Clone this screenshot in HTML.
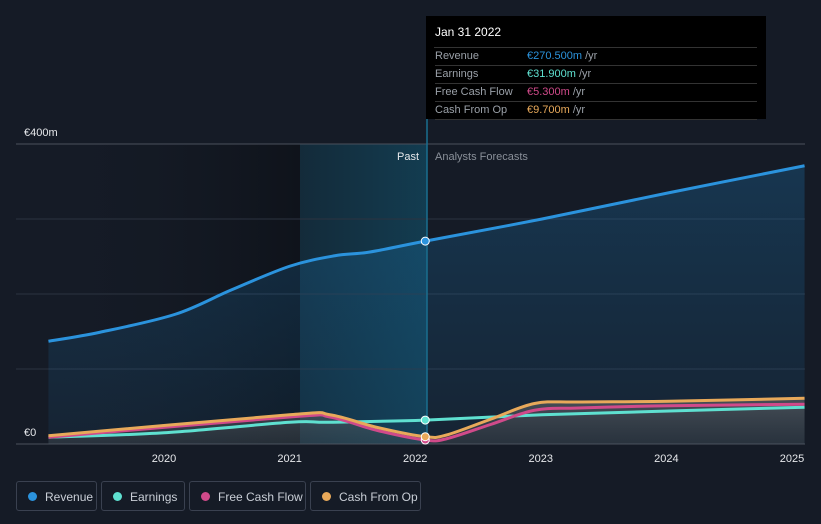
<!DOCTYPE html>
<html><head><meta charset="utf-8"><style>
body{margin:0;background:#151b26;font-family:"Liberation Sans",sans-serif;}
svg{display:block}
.leg{position:absolute;top:481px;height:30px;border:1px solid #3a4150;border-radius:3px;color:#c9ced6;font-size:12px;line-height:30px;box-sizing:border-box;padding-left:28px}
.leg i{position:absolute;left:11px;top:10px;width:9px;height:9px;border-radius:50%}
.row{height:17px;border-bottom:1px solid #333;position:relative}
</style></head><body>
<div style="position:relative;width:821px;height:524px;overflow:hidden">
<svg id="c" width="821" height="524">
<defs>
<linearGradient id="past" x1="0" x2="1" y1="0" y2="0"><stop offset="0" stop-color="#0d6a8a" stop-opacity="0.2"/><stop offset="1" stop-color="#0f6e90" stop-opacity="0.4"/></linearGradient>
<linearGradient id="dark" x1="0" x2="1"><stop offset="0" stop-color="#151b26" stop-opacity="0"/><stop offset="1" stop-color="#000" stop-opacity="0.3"/></linearGradient>
<linearGradient id="revA" x1="0" x2="0" y1="0" y2="1"><stop offset="0" stop-color="#1b6fa8" stop-opacity="0.32"/><stop offset="1" stop-color="#1b6fa8" stop-opacity="0.1"/></linearGradient>
<linearGradient id="lowA" x1="0" x2="0" y1="0" y2="1"><stop offset="0" stop-color="#777" stop-opacity="0.5"/><stop offset="1" stop-color="#555" stop-opacity="0.3"/></linearGradient>
</defs>
<g id="g"></g>
</svg>
<div style="position:absolute;left:426px;top:16px;width:340px;height:103px;background:#000;font-size:11px;color:#9aa0a8">
<div style="position:absolute;left:9px;top:9px;color:#fff;font-size:12px">Jan 31 2022</div>
<div style="position:absolute;left:8px;width:323px;top:31px;border-top:1px solid #333"></div>
<div style="position:absolute;left:9px;top:32px;line-height:17px;width:322px">
<div class="row">Revenue<span style="position:absolute;left:92px"><span style="color:#2b93dd">€270.500m</span> /yr</span></div>
<div class="row">Earnings<span style="position:absolute;left:92px"><span style="color:#5fe0d0">€31.900m</span> /yr</span></div>
<div class="row">Free Cash Flow<span style="position:absolute;left:92px"><span style="color:#d04a8a">€5.300m</span> /yr</span></div>
<div class="row">Cash From Op<span style="position:absolute;left:92px"><span style="color:#e8a95a">€9.700m</span> /yr</span></div>
</div></div>
<div class="leg" style="left:16px;width:81px"><i style="background:#2b93dd"></i>Revenue</div>
<div class="leg" style="left:101px;width:84px"><i style="background:#5fe0d0"></i>Earnings</div>
<div class="leg" style="left:189px;width:117px"><i style="background:#d04a8a"></i>Free Cash Flow</div>
<div class="leg" style="left:310px;width:111px"><i style="background:#e8a95a"></i>Cash From Op</div>
</div>
<script>
const revT=[2019.08,2019.49,2020.09,2020.53,2021.0,2021.36,2021.64,2022.08,2023.01,2024.02,2025.1];
const revV=[137,149,173,205,237,251,256,270.5,300,335,371];
const earnT=[2019.08,2020.0,2021.0,2021.32,2022.08,2023.01,2024.02,2025.1];
const earnV=[9,15,29,29,31.9,39,44,49];
const fcfT=[2019.08,2021.0,2021.32,2021.7,2022.08,2022.25,2022.6,2022.95,2023.3,2024.02,2025.1];
const fcfV=[9,36,36,18,5.3,7,26,45,48,51,53];
const cfoT=[2019.08,2021.0,2021.32,2021.7,2022.08,2022.25,2022.6,2022.95,2023.3,2024.02,2025.1];
const cfoV=[11,39,39,22,9.7,12,33,54,56,57,61];
const yTicks=[0,100,200,300,400];
const xTicks=[2020,2021,2022,2023,2024,2025];
const X=t=>164+(t-2020)*125.6, Y=v=>444-v*0.75;
const NS="http://www.w3.org/2000/svg",g=document.getElementById('g');
function el(tag,a,p){const e=document.createElementNS(NS,tag);for(const k in a)e.setAttribute(k,a[k]);(p||g).appendChild(e);return e;}
function path(T,V){const p=T.map((t,i)=>[X(t),Y(V[i])]);let d='M'+p[0];for(let i=0;i<p.length-1;i++){const p0=p[i-1]||p[i],p1=p[i],p2=p[i+1],p3=p[i+2]||p2;const c1=[p1[0]+(p2[0]-p0[0])/6,p1[1]+(p2[1]-p0[1])/6],c2=[p2[0]-(p3[0]-p1[0])/6,p2[1]-(p3[1]-p1[1])/6];d+='C'+c1+' '+c2+' '+p2;}return d;}
let e;
e=el('rect',{x:48,y:144,width:252,height:300,fill:'url(#dark)'});
e=el('rect',{x:300,y:144,width:127,height:300,fill:'url(#past)'});
yTicks.forEach(v=>{e=el('line',{x1:16,x2:805,y1:Y(v),y2:Y(v),stroke:v==0||v==400?'#4a505c':'#2c3340'});});
const rp=path(revT,revV);
e=el('path',{d:rp+`L${X(revT[revT.length-1])},444L${X(revT[0])},444Z`,fill:'url(#revA)'});
const cp=path(cfoT,cfoV);
e=el('path',{d:cp+`L${X(cfoT[cfoT.length-1])},444L${X(cfoT[0])},444Z`,fill:'url(#lowA)'});
e=el('line',{x1:427,x2:427,y1:119,y2:444,stroke:'#1a6f8f',"stroke-width":1.5});
[[earnT,earnV,'#5fe0d0','earnings-line'],[fcfT,fcfV,'#d04a8a','free-cash-flow-line'],[cfoT,cfoV,'#e8a95a','cash-from-op-line'],[revT,revV,'#2b93dd','revenue-line']].forEach(([T,V,c,n])=>{
e=el('path',{d:path(T,V),fill:'none',stroke:c,"stroke-width":3});
const i=T.indexOf(2022.08);e=el('circle',{cx:X(T[i]),cy:Y(V[i]),r:4,fill:c,stroke:'#fff',"stroke-width":1});});
xTicks.forEach(t=>{e=el('text',{x:X(t),y:462,fill:'#e6e8eb',"font-size":11,"text-anchor":"middle"});e.textContent=t;});
e=el('text',{x:24,y:136,fill:'#e6e8eb',"font-size":11});e.textContent='€400m';
e=el('text',{x:24,y:436,fill:'#e6e8eb',"font-size":11});e.textContent='€0';
e=el('text',{x:419,y:160,fill:'#e6e8eb',"font-size":11,"text-anchor":"end"});e.textContent='Past';
e=el('text',{x:435,y:160,fill:'#8a9099',"font-size":11});e.textContent='Analysts Forecasts';
</script>
</body></html>
